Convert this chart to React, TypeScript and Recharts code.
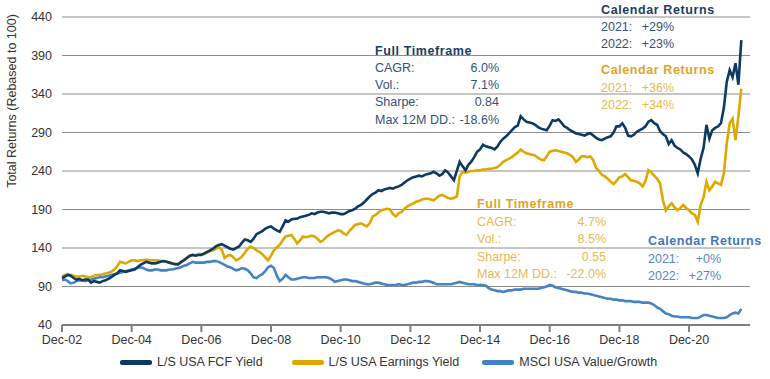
import { LineChart, Line, XAxis, YAxis, CartesianGrid } from "recharts";

// month index 0 = Dec-02, one value per month
const xTickLabels = ["Dec-02", "Dec-04", "Dec-06", "Dec-08", "Dec-10", "Dec-12", "Dec-14", "Dec-16", "Dec-18", "Dec-20"];
const yTicks = [40, 90, 140, 190, 240, 290, 340, 390, 440];

const fcfYield = [
  101, 103, 105, 104, 101, 99, 100, 98, 99, 99, 95, 97,
  96, 95, 97, 98, 100, 102, 105, 107, 111, 110, 109, 110,
  111, 112, 115, 118, 120, 122, 121, 120, 120, 121, 122, 123,
  122, 121, 120, 119, 119, 122, 124, 127, 130, 131, 130, 131,
  131, 133, 135, 137, 139, 142, 144, 145, 143, 141, 139, 138,
  140, 142, 147, 151, 150, 148, 152, 158, 160, 162, 165, 167,
  168, 165, 163, 161, 168, 176, 174, 177, 178, 178, 180, 181,
  182, 183, 185, 184, 186, 187, 187, 186, 185, 186, 186, 185,
  184, 184, 186, 188, 189, 191, 194, 196, 199, 203, 207, 210,
  212, 215, 214, 216, 217, 218, 217, 219, 220, 222, 225, 228,
  230, 232, 233, 234, 233, 235, 236, 237, 239, 237, 234, 236,
  241, 238, 233, 228, 240, 252, 246, 241, 248, 252, 258, 265,
  268, 274, 272, 271, 270, 268, 272, 278, 282, 285, 289, 293,
  297, 299, 311, 307, 304, 303, 302, 300, 297, 295, 294, 293,
  299, 306, 305, 307, 303, 298, 296, 293, 291, 289, 288, 287,
  286, 288, 289, 286, 283, 281, 280, 282, 284, 285, 290, 298,
  298, 302, 296, 286, 285, 287, 291, 293, 295, 298, 304, 306,
  302, 300, 292, 288, 285, 275, 280, 273, 270, 268, 264, 262,
  259, 255, 248, 237, 256, 270, 300, 282, 293, 296, 298, 302,
  322, 356, 371, 362, 380, 352, 410,
];

const earningsYield = [
  103, 105, 106, 105, 104, 103, 103, 104, 103, 102, 102, 104,
  105, 105, 106, 107, 108, 109, 112, 116, 122, 121, 120, 122,
  124, 124, 123, 124, 124, 125, 124, 124, 124, 124, 123, 123,
  122, 121, 120, 119, 118, 121, 125, 127, 129, 131, 131, 132,
  132, 132, 134, 136, 137, 139, 141, 138, 127, 130, 131, 128,
  124, 126, 129, 134, 139, 142, 140, 137, 135, 132, 128, 124,
  130, 137, 141, 144, 150, 155, 156, 157, 152, 146, 150, 155,
  154, 155, 156, 155, 152, 148, 150, 154, 157, 159, 161, 163,
  162, 159, 157, 162, 166, 170, 171, 172, 170, 168, 172, 181,
  183, 186, 189, 190, 191, 190, 184, 181, 185, 187, 191, 194,
  196, 198, 200, 201, 203, 204, 204, 203, 202, 205, 208, 209,
  207, 205, 204, 205, 207, 233, 239, 238, 239, 240, 240, 241,
  241, 242, 242, 243, 243, 244, 245, 248, 252, 254, 256, 258,
  261, 264, 268, 265, 263, 262, 261, 260, 257, 255, 254, 259,
  265, 266, 267, 266, 265, 264, 263, 261, 258, 252, 255, 259,
  259, 258, 259, 254, 244, 240, 235, 233, 230, 226, 223, 227,
  232, 233, 236, 232, 228, 227, 226, 224, 220, 227, 241, 238,
  234, 230, 224, 202, 189, 194, 198, 193, 189, 192, 196, 192,
  189, 185, 183, 174, 196, 206, 226, 215, 220, 226, 224, 222,
  237, 276, 302, 308, 280, 311, 347,
];

const msciValueGrowth = [
  98, 99, 97, 94, 95, 97, 98, 98, 97, 98, 99, 100,
  101, 102, 102, 103, 104, 105, 106, 107, 108, 109, 110, 111,
  112, 113, 114, 115, 114, 112, 111, 111, 112, 112, 111, 111,
  111, 112, 112, 113, 114, 115, 117, 118, 120, 122, 121, 121,
  121, 121, 122, 122, 123, 123, 122, 120, 118, 116, 115, 113,
  111, 112, 114, 113, 111, 107, 102, 101, 104, 106, 110, 115,
  117, 114, 104, 97, 100, 105, 102, 99, 99, 100, 101, 102,
  102, 101, 101, 101, 102, 102, 102, 102, 101, 99, 96, 97,
  98, 99, 99, 98, 97, 97, 96, 95, 94, 93, 93, 94,
  95, 95, 94, 93, 92, 92, 92, 92, 93, 92, 92, 93,
  94, 95, 95, 96, 96, 97, 97, 96, 95, 93, 93, 93,
  93, 93, 93, 94, 95, 96, 95, 94, 93, 93, 93, 92,
  92, 92, 91, 88, 86, 85, 84, 84, 83, 84, 85, 85,
  86, 86, 86, 87, 87, 87, 87, 87, 87, 88, 89, 90,
  92, 91, 89, 88, 87, 86, 85, 84, 83, 83, 82, 82,
  81, 81, 80, 79, 78, 77, 76, 75, 74, 74, 73, 73,
  72, 72, 71, 71, 71, 70, 70, 70, 69, 69, 69, 68,
  66, 63, 61, 58, 55, 54, 52, 51, 51, 50, 50, 50,
  50, 49, 49, 49, 51, 53, 53, 52, 51, 50, 49, 49,
  49, 50, 53, 55, 56, 55, 61,
];

const data = fcfYield.map((v, i) => ({
  m: i,
  fcf: v,
  ey: earningsYield[i],
  msci: msciValueGrowth[i],
}));

const NAVY = "#0d3a63";
const GOLD = "#dea800";
const BLUE = "#4683c4";
const FONT = "'Liberation Sans', Arial, Helvetica, sans-serif";

const series = [
  { key: "fcf", name: "L/S USA FCF Yield", color: NAVY },
  { key: "ey", name: "L/S USA Earnings Yield", color: GOLD },
  { key: "msci", name: "MSCI USA Value/Growth", color: BLUE },
];

function ChartLegend() {
  return (
    <div
      style={{
        position: "absolute",
        left: 120,
        top: 355,
        display: "flex",
        alignItems: "center",
        fontFamily: FONT,
        fontSize: 12.5,
        color: "#333",
        whiteSpace: "nowrap",
      }}
    >
      {series.map((s, i) => (
        <div key={s.key} style={{ display: "flex", alignItems: "center", marginLeft: i === 0 ? 0 : i === 1 ? 29 : 23 }}>
          <div style={{ width: 32, height: 5, background: s.color, borderRadius: 2, marginRight: 5 }} />
          <span>{s.name}</span>
        </div>
      ))}
    </div>
  );
}

type Block = {
  x: number;
  valueX: number;
  y: number;
  title: string;
  rows: [string, string][];
  titleColor: string;
  textColor: string;
  step: number;
};

const blocks: Block[] = [
  {
    x: 375, valueX: 499, y: 54.5, title: "Full Timeframe", step: 17.3,
    rows: [["CAGR:", "6.0%"], ["Vol.:", "7.1%"], ["Sharpe:", "0.84"], ["Max 12M DD.:", "-18.6%"]],
    titleColor: "#1c3c63", textColor: "#34507a",
  },
  {
    x: 601, valueX: 674, y: 13.6, title: "Calendar Returns", step: 17.4,
    rows: [["2021:", "+29%"], ["2022:", "+23%"]],
    titleColor: "#1c3c63", textColor: "#34507a",
  },
  {
    x: 601, valueX: 674, y: 74.3, title: "Calendar Returns", step: 17.4,
    rows: [["2021:", "+36%"], ["2022:", "+34%"]],
    titleColor: "#dea42a", textColor: "#e8b953",
  },
  {
    x: 477, valueX: 606, y: 208, title: "Full Timeframe", step: 17.6,
    rows: [["CAGR:", "4.7%"], ["Vol.:", "8.5%"], ["Sharpe:", "0.55"], ["Max 12M DD.:", "-22.0%"]],
    titleColor: "#dea42a", textColor: "#e8b953",
  },
  {
    x: 648, valueX: 721, y: 245, title: "Calendar Returns", step: 17.6,
    rows: [["2021:", "+0%"], ["2022:", "+27%"]],
    titleColor: "#3f77ba", textColor: "#5688c4",
  },
];

function Annotations() {
  return (
    <svg width={770} height={379} style={{ position: "absolute", left: 0, top: 0, pointerEvents: "none" }}>
      <text
        transform="translate(16,101) rotate(-90)"
        textAnchor="middle"
        fontFamily={FONT}
        fontSize={12.5}
        fill="#333"
      >
        Total Returns (Rebased to 100)
      </text>
      {blocks.map((b, i) => (
        <g key={i} fontFamily={FONT}>
          <text x={b.x} y={b.y} fontSize={12.5} fontWeight="bold" letterSpacing={0.6} fill={b.titleColor}>
            {b.title}
          </text>
          {b.rows.map(([label, value], j) => (
            <g key={j} fontSize={12.5} fill={b.textColor}>
              <text x={b.x} y={b.y + b.step * (j + 1)}>{label}</text>
              <text x={b.valueX} y={b.y + b.step * (j + 1)} textAnchor="end">{value}</text>
            </g>
          ))}
        </g>
      ))}
    </svg>
  );
}

export default function App() {
  return (
    <div style={{ position: "absolute", left: 0, top: 0, width: 770, height: 379, background: "#fff" }}>
      <LineChart width={770} height={379} data={data} margin={{ top: 17, right: 20, bottom: 24, left: 0 }}>
        <CartesianGrid horizontal vertical={false} stroke="#8c8c8c" strokeWidth={1} />
        <XAxis
          dataKey="m"
          type="number"
          domain={[0, 237]}
          ticks={xTickLabels.map((_, i) => i * 24)}
          tickFormatter={(v: number) => xTickLabels[v / 24] ?? ""}
          axisLine={{ stroke: "#7f7f7f", strokeWidth: 2 }}
          tickLine={{ stroke: "#7f7f7f", strokeWidth: 2 }}
          tickSize={7}
          tickMargin={3}
          height={30}
          tick={{ fill: "#333", fontSize: 12.5, fontFamily: FONT }}
        />
        <YAxis
          domain={[40, 440]}
          ticks={yTicks}
          width={62}
          axisLine={false}
          tickLine={false}
          tickMargin={4}
          tick={{ fill: "#333", fontSize: 12.5, fontFamily: FONT }}
        />
        <Line dataKey="msci" stroke={BLUE} strokeWidth={2.6} dot={false} isAnimationActive={false} />
        <Line dataKey="ey" stroke={GOLD} strokeWidth={2.6} dot={false} isAnimationActive={false} />
        <Line dataKey="fcf" stroke={NAVY} strokeWidth={2.6} dot={false} isAnimationActive={false} />
      </LineChart>
      <ChartLegend />
      <Annotations />
    </div>
  );
}
